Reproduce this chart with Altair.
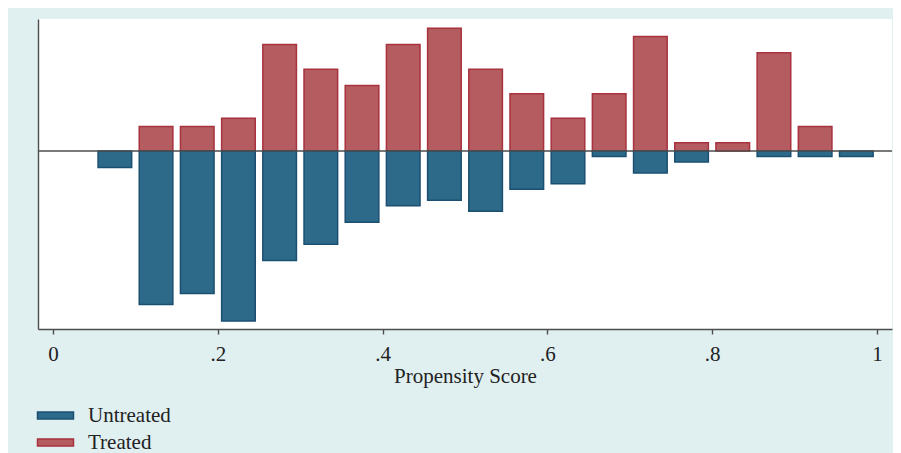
import altair as alt
import pandas as pd

# Bin centres (propensity score, bin width 0.05) and counts per group
treated_centers = [0.125, 0.175, 0.225, 0.275, 0.325, 0.375, 0.425, 0.475, 0.525,
                   0.575, 0.625, 0.675, 0.725, 0.775, 0.825, 0.875, 0.925]
treated_counts = [3, 3, 4, 13, 10, 8, 13, 15, 10, 7, 4, 7, 14, 1, 1, 12, 3]

untreated_centers = [0.075, 0.125, 0.175, 0.225, 0.275, 0.325, 0.375, 0.425, 0.475,
                     0.525, 0.575, 0.625, 0.675, 0.725, 0.775, 0.875, 0.925, 0.975]
untreated_counts = [3, 28, 26, 31, 20, 17, 13, 10, 9, 11, 7, 6, 1, 4, 2, 1, 1, 1]

x_ticks = [0, 0.2, 0.4, 0.6, 0.8, 1]
bin_width = 0.05
half_bar = 0.0204

rows = []
for c, n in zip(treated_centers, treated_counts):
    rows.append({"group": "Treated", "center": c, "count": n, "sign": 1})
for c, n in zip(untreated_centers, untreated_counts):
    rows.append({"group": "Untreated", "center": c, "count": n, "sign": -1})
df = pd.DataFrame(rows)

font = "Liberation Serif"

color = alt.Color(
    "group:N",
    scale=alt.Scale(domain=["Untreated", "Treated"], range=["#2d6a89", "#b45c60"]),
    legend=alt.Legend(
        title=None,
        orient="none",
        legendX=7,
        legendY=386,
        direction="vertical",
        symbolType="M-5.14,-1H5.14V1H-5.14Z",
        symbolSize=49,
        symbolStrokeWidth=1.5,
        labelFont=font,
        labelFontSize=21,
        labelColor="#222222",
        labelOffset=22,
        rowPadding=5,
        padding=0,
    ),
)
stroke = alt.Stroke(
    "group:N",
    scale=alt.Scale(domain=["Untreated", "Treated"], range=["#1b4f72", "#a8323e"]),
    legend=None,
)

xscale = alt.Scale(domain=[-0.0183, 1.0183], nice=False, zero=False)
yscale = alt.Scale(domain=[-3.40, 2.52], nice=False, zero=False)

base = alt.Chart(df).transform_joinaggregate(
    total="sum(count)", groupby=["group"]
).transform_calculate(
    density=f"datum.sign * datum.count / (datum.total * {bin_width})",
    x0=f"datum.center - {half_bar}",
    x1=f"datum.center + {half_bar}",
)

bars = base.mark_bar(strokeWidth=1.5, opacity=1).encode(
    x=alt.X(
        "x0:Q",
        scale=xscale,
        title="Propensity Score",
        axis=alt.Axis(
            values=x_ticks,
            labelExpr="datum.value == 0 ? '0' : datum.value == 1 ? '1' : replace(format(datum.value, '.1f'), '0.', '.')",
            grid=False,
        ),
    ),
    x2="x1:Q",
    y=alt.Y("density:Q", scale=yscale, axis=alt.Axis(labels=False, ticks=False, grid=False, title=None)),
    y2=alt.datum(0),
    color=color,
    stroke=stroke,
)

zero = alt.Chart(pd.DataFrame({"y": [0]})).mark_rule(color="#4d4d4d", strokeWidth=1.4).encode(
    y=alt.Y("y:Q", scale=yscale)
)

chart = (
    alt.layer(bars, zero)
    .properties(
        width=854,
        height=310,
        background="#e0eff0",
        padding={"left": 30, "top": 11, "right": 1, "bottom": 124},
        autosize=alt.AutoSizeParams(type="none"),
    )
    .configure_view(stroke=None, fill="white")
    .configure_axis(
        domainColor="#4d4d4d",
        domainWidth=1.4,
        tickColor="#4d4d4d",
        tickWidth=1.4,
        tickSize=5,
        labelFont=font,
        labelFontSize=21,
        labelColor="#222222",
        labelPadding=9,
        titleFont=font,
        titleFontSize=21,
        titleFontWeight="normal",
        titleColor="#222222",
        titlePadding=1,
    )
)

chart.save("out.html", embed_options={"renderer": "svg", "actions": False})
